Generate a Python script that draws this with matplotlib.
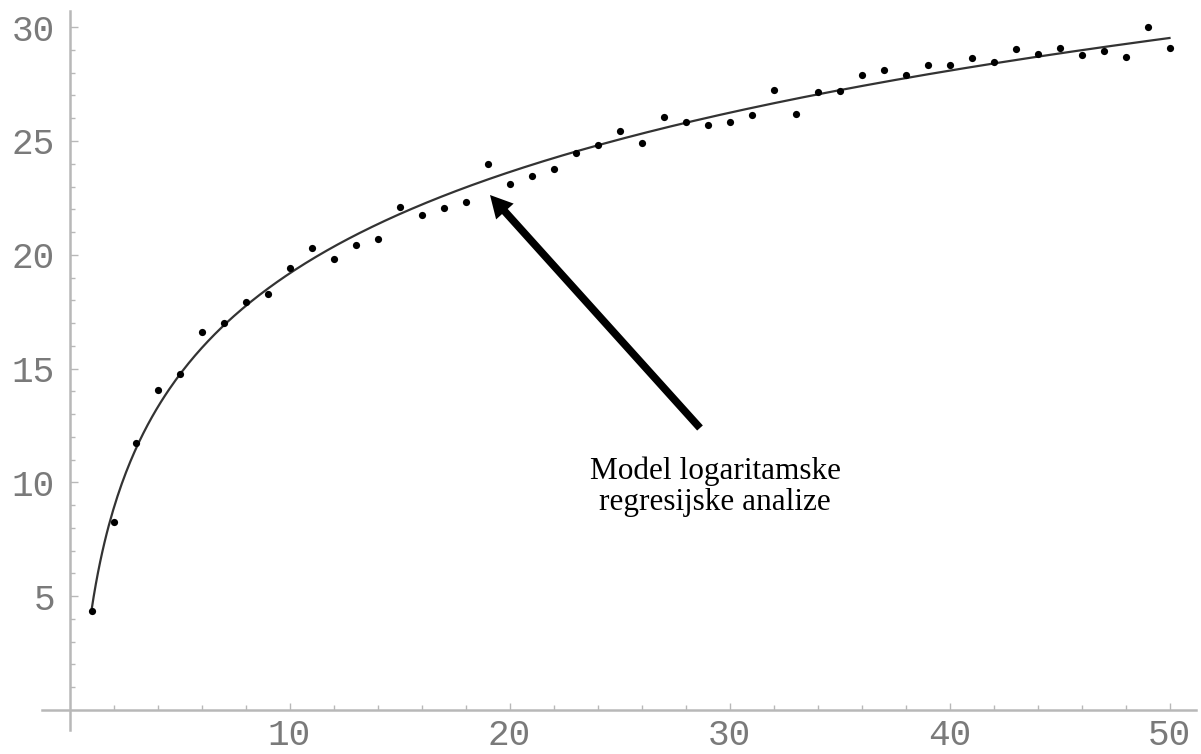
import numpy as np
import matplotlib
matplotlib.use("Agg")
import matplotlib.pyplot as plt
from matplotlib.ticker import FixedLocator

# ---- data ----
x_values = list(range(1, 51))
y_values = [4.35, 8.27, 11.72, 14.06, 14.76, 16.62, 17.00, 17.92, 18.28, 19.40,
            20.28, 19.82, 20.43, 20.71, 22.11, 21.74, 22.05, 22.33, 23.99, 23.12,
            23.46, 23.79, 24.47, 24.82, 25.45, 24.92, 26.04, 25.82, 25.72, 25.83,
            26.16, 27.24, 26.20, 27.14, 27.18, 27.88, 28.10, 27.88, 28.34, 28.34,
            28.63, 28.46, 29.05, 28.83, 29.10, 28.80, 28.95, 28.68, 30.00, 29.10]
x_major_ticks = [10, 20, 30, 40, 50]
x_minor_ticks = [2, 4, 6, 8, 12, 14, 16, 18, 22, 24, 26, 28, 32, 34, 36, 38, 42, 44, 46, 48]
y_major_ticks = [5, 10, 15, 20, 25, 30]
y_minor_ticks = [v for v in range(1, 30) if v % 5 != 0]
annotation_lines = ["Model logaritamske", "regresijske analize"]

plt.rcParams["font.family"] = ["Liberation Mono", "DejaVu Sans"]

W, H = 1201, 754
fig = plt.figure(figsize=(W / 100, H / 100), dpi=100)
ax = fig.add_axes([0, 0, 1, 1])

# pixel geometry of the reference frame
px_x, px_y = 22.0, 22.76
ox, oy = 69.5, 710.0
ax.set_xlim(-ox / px_x, (W - ox) / px_x)
ax.set_ylim(-(H - oy) / px_y, oy / px_y)

# logarithmic regression model fitted to the data
xv = np.array(x_values, dtype=float)
yv = np.array(y_values, dtype=float)
b, a = np.polyfit(np.log(xv), yv, 1)
xs = np.linspace(1, 50, 500)
ax.plot(xs, a + b * np.log(xs), color="#333333", lw=1.6, zorder=2)

ax.plot(x_values, y_values, "o", color="black", ms=5.2, mew=0, zorder=3)

# axes in Mathematica style
axis_col = "#b8b8b8"
for s in ["top", "right"]:
    ax.spines[s].set_visible(False)
ax.spines["left"].set_position(("data", 0))
ax.spines["bottom"].set_position(("data", 0))
ax.spines["left"].set_bounds(-0.88, 30.7)
ax.spines["bottom"].set_bounds(-1.25, 51.2)
for s in ["left", "bottom"]:
    ax.spines[s].set_color(axis_col)
    ax.spines[s].set_linewidth(1.8)

ax.xaxis.set_major_locator(FixedLocator(x_major_ticks))
ax.xaxis.set_minor_locator(FixedLocator(x_minor_ticks))
ax.yaxis.set_major_locator(FixedLocator(y_major_ticks))
ax.yaxis.set_minor_locator(FixedLocator(y_minor_ticks))

ax.tick_params(axis="y", which="major", direction="in", length=5.8, width=1,
               color=axis_col, pad=10.5, labelsize=26, labelcolor="#7a7a7a")
ax.tick_params(axis="y", which="minor", direction="in", length=3.6, width=1, color=axis_col)
ax.tick_params(axis="x", which="major", direction="in", length=5.0, width=1,
               color=axis_col, pad=6, labelsize=26, labelcolor="#7a7a7a")
ax.tick_params(axis="x", which="minor", direction="in", length=3.6, width=1, color=axis_col)

# annotation arrow and text
tip = ((490 - ox) / px_x, (oy - 195) / px_y)
tail = ((700 - ox) / px_x, (oy - 428) / px_y)
ax.annotate("", xy=tip, xytext=tail,
            arrowprops=dict(arrowstyle="simple,head_length=1.6,head_width=1.7,tail_width=0.55",
                            mutation_scale=10, fc="black", ec="none", lw=0,
                            shrinkA=0, shrinkB=0))
tx = (715 - ox) / px_x
for line, base_px in zip(annotation_lines, [479, 510]):
    ax.text(tx, (oy - base_px) / px_y, line, ha="center", va="baseline",
            fontsize=22.5, family=["Liberation Serif", "DejaVu Serif"], color="black")

fig.savefig("out.png", dpi=100)
